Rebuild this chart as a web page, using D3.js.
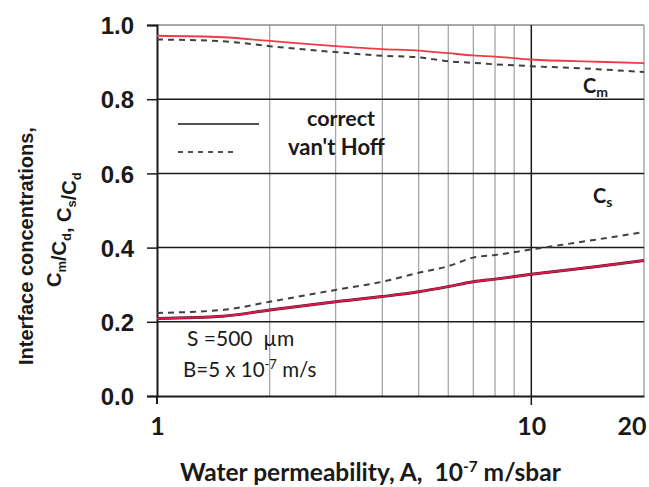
<!DOCTYPE html>
<html>
<head>
<meta charset="utf-8">
<script src="https://cdn.jsdelivr.net/npm/d3@7"></script>
<style>
  html, body { margin: 0; padding: 0; background: #fff; }
  svg { display: block; }
</style>
</head>
<body>
<svg id="chart" width="649" height="487"></svg>
<script>
// Water permeability A (10^-7 m/s·bar)
const permeability = [1, 1.5, 2, 3, 4, 5, 6, 7, 8, 10, 15, 20];
// Membrane-side interface concentration Cm/Cd
const cmCorrect   = [0.971, 0.967, 0.957, 0.943, 0.935, 0.931, 0.924, 0.918, 0.915, 0.907, 0.901, 0.897];
const cmVantHoff  = [0.961, 0.956, 0.943, 0.927, 0.917, 0.913, 0.902, 0.898, 0.894, 0.889, 0.881, 0.873];
// Support-side interface concentration Cs/Cd
const csCorrect   = [0.209, 0.215, 0.232, 0.254, 0.268, 0.281, 0.295, 0.308, 0.315, 0.328, 0.349, 0.365];
const csVantHoff  = [0.224, 0.232, 0.254, 0.286, 0.308, 0.332, 0.350, 0.373, 0.380, 0.395, 0.422, 0.442];

const yTicks = [0, 0.2, 0.4, 0.6, 0.8, 1.0];
const xTickLabels = [1, 10, 20];
const xMinorGrid = [2, 3, 4, 5, 6, 7, 8, 9];

const margin = { left: 157, right: 5, top: 25, bottom: 91 };
const W = 649, H = 487;
const svg = d3.select("#chart");

const x = d3.scaleLog().domain([1, 20]).range([margin.left, W - margin.right]);
const y = d3.scaleLinear().domain([0, 1]).range([H - margin.bottom, margin.top]);

const labelFont = "Lato, 'Open Sans', sans-serif";
const axisFont = "'Liberation Sans', Arial, sans-serif";
const ink = "#1a1a1a";

// vertical grid lines between decades
svg.append("g").selectAll("line").data(xMinorGrid).join("line")
  .attr("x1", d => x(d)).attr("x2", d => x(d))
  .attr("y1", y(0)).attr("y2", y(1))
  .attr("stroke", "#a6a6a6").attr("stroke-width", 1.3);

// right border
svg.append("line")
  .attr("x1", x(20)).attr("x2", x(20)).attr("y1", y(0)).attr("y2", y(1))
  .attr("stroke", "#a6a6a6").attr("stroke-width", 1.5);

// top border
svg.append("line")
  .attr("x1", x(1)).attr("x2", x(20)).attr("y1", y(1)).attr("y2", y(1))
  .attr("stroke", "#8c8c8c").attr("stroke-width", 1.5);

// horizontal grid lines
svg.append("g").selectAll("line").data(yTicks.filter(d => d > 0 && d < 1)).join("line")
  .attr("x1", x(1)).attr("x2", x(20))
  .attr("y1", d => y(d)).attr("y2", d => y(d))
  .attr("stroke", ink).attr("stroke-width", 1.5);

// decade line at 10
svg.append("line")
  .attr("x1", x(10)).attr("x2", x(10)).attr("y1", y(1)).attr("y2", y(0) + 9)
  .attr("stroke", ink).attr("stroke-width", 1.5);

// y axis
const yAxis = d3.axisLeft(y).tickValues(yTicks).tickSize(10).tickPadding(13)
  .tickFormat(d3.format(".1f"));
const gy = svg.append("g").attr("transform", `translate(${x(1)},0)`).call(yAxis);
gy.select(".domain").attr("stroke", ink).attr("stroke-width", 2);
gy.selectAll(".tick line").attr("stroke", ink).attr("stroke-width", 1.5);
gy.selectAll(".tick text")
  .attr("font-family", axisFont).attr("font-weight", "bold").attr("font-size", 24)
  .attr("fill", ink).attr("dy", "0.36em");

// x axis
const xAxis = d3.axisBottom(x).tickValues(xTickLabels).tickSize(0).tickPadding(21)
  .tickFormat(d3.format("d"));
const gx = svg.append("g").attr("transform", `translate(0,${y(0)})`).call(xAxis);
gx.select(".domain").attr("stroke", ink).attr("stroke-width", 2);
gx.selectAll(".tick text")
  .attr("font-family", labelFont).attr("font-weight", "bold").attr("font-size", 25)
  .attr("fill", ink)
  .attr("text-anchor", d => d === 20 ? "end" : "middle")
  .attr("dx", d => d === 20 ? 2 : 0);
// tick mark below the axis at 1
svg.append("line")
  .attr("x1", x(1)).attr("x2", x(1)).attr("y1", y(0)).attr("y2", y(0) + 8)
  .attr("stroke", ink).attr("stroke-width", 2);

// curves
const line = vals => d3.line()
  .x((d, i) => x(permeability[i]))
  .y(d => y(d))
  .curve(d3.curveMonotoneX)(vals);

svg.append("path").attr("d", line(cmVantHoff)).attr("fill", "none")
  .attr("stroke", "#3b4145").attr("stroke-width", 2).attr("stroke-dasharray", "6,5");
svg.append("path").attr("d", line(csVantHoff)).attr("fill", "none")
  .attr("stroke", "#3b4145").attr("stroke-width", 2).attr("stroke-dasharray", "6,5");
svg.append("path").attr("d", line(cmCorrect)).attr("fill", "none")
  .attr("stroke", "#ef3b46").attr("stroke-width", 1.8);
svg.append("path").attr("d", line(csCorrect)).attr("fill", "none")
  .attr("stroke", "#5a1436").attr("stroke-width", 3);
svg.append("path").attr("d", line(csCorrect)).attr("fill", "none")
  .attr("stroke", "#d81c45").attr("stroke-width", 2);

// legend
svg.append("line").attr("x1", 178).attr("x2", 259).attr("y1", 124).attr("y2", 124)
  .attr("stroke", ink).attr("stroke-width", 1.5);
svg.append("line").attr("x1", 178).attr("x2", 238).attr("y1", 152).attr("y2", 152)
  .attr("stroke", ink).attr("stroke-width", 1.5).attr("stroke-dasharray", "5,5");
svg.append("text").attr("x", 307).attr("y", 126).text("correct")
  .attr("font-family", labelFont).attr("font-weight", "bold").attr("font-size", 21.5).attr("fill", ink);
svg.append("text").attr("x", 288).attr("y", 155).text("van't Hoff")
  .attr("font-family", labelFont).attr("font-weight", "bold").attr("font-size", 22).attr("fill", ink);

// series labels with subscripts
function subLabel(tx, ty, main, sub) {
  const t = svg.append("text").attr("x", tx).attr("y", ty)
    .attr("font-family", labelFont).attr("font-weight", "bold").attr("font-size", 20).attr("fill", ink);
  t.append("tspan").text(main);
  t.append("tspan").attr("font-size", 14).attr("dy", 4).text(sub);
}
subLabel(583, 93, "C", "m");
subLabel(593, 203, "C", "s");

// operating conditions
svg.append("text").attr("x", 187).attr("y", 346)
  .attr("font-family", labelFont).attr("font-size", 21).attr("fill", ink)
  .text("S =500\u00a0\u00a0\u00b5m");
const bt = svg.append("text").attr("x", 183).attr("y", 377)
  .attr("font-family", labelFont).attr("font-size", 20.5).attr("fill", ink);
bt.append("tspan").text("B=5 x 10");
bt.append("tspan").attr("font-size", 13).attr("dy", -8).text("-7");
bt.append("tspan").attr("dy", 8).text(" m/s");

// x axis title
const xt = svg.append("text").attr("x", 180).attr("y", 481)
  .attr("font-family", labelFont).attr("font-weight", "bold").attr("font-size", 24.5).attr("fill", ink);
xt.append("tspan").text("Water permeability, A,\u00a0\u00a010");
xt.append("tspan").attr("font-size", 15.5).attr("dy", -9).text("-7");
xt.append("tspan").attr("dy", 9).text(" m/sbar");

// y axis title (two lines), reading bottom to top
const yt = svg.append("g").attr("transform", "translate(33,365) rotate(-90)");
yt.append("text").attr("text-anchor", "start")
  .attr("font-family", axisFont).attr("font-weight", "bold").attr("font-size", 20).attr("fill", ink)
  .text("Interface concentrations,");
const y2 = yt.append("text").attr("text-anchor", "start").attr("x", 78).attr("y", 28)
  .attr("font-family", axisFont).attr("font-weight", "bold").attr("font-size", 20).attr("fill", ink);
[["C","m"],["/C","d"],[", C","s"],["/C","d"]].forEach(([m, s]) => {
  y2.append("tspan").text(m);
  y2.append("tspan").attr("font-size", 13).attr("dy", 5).text(s);
  y2.append("tspan").attr("dy", -5).text("");
});
</script>
</body>
</html>
